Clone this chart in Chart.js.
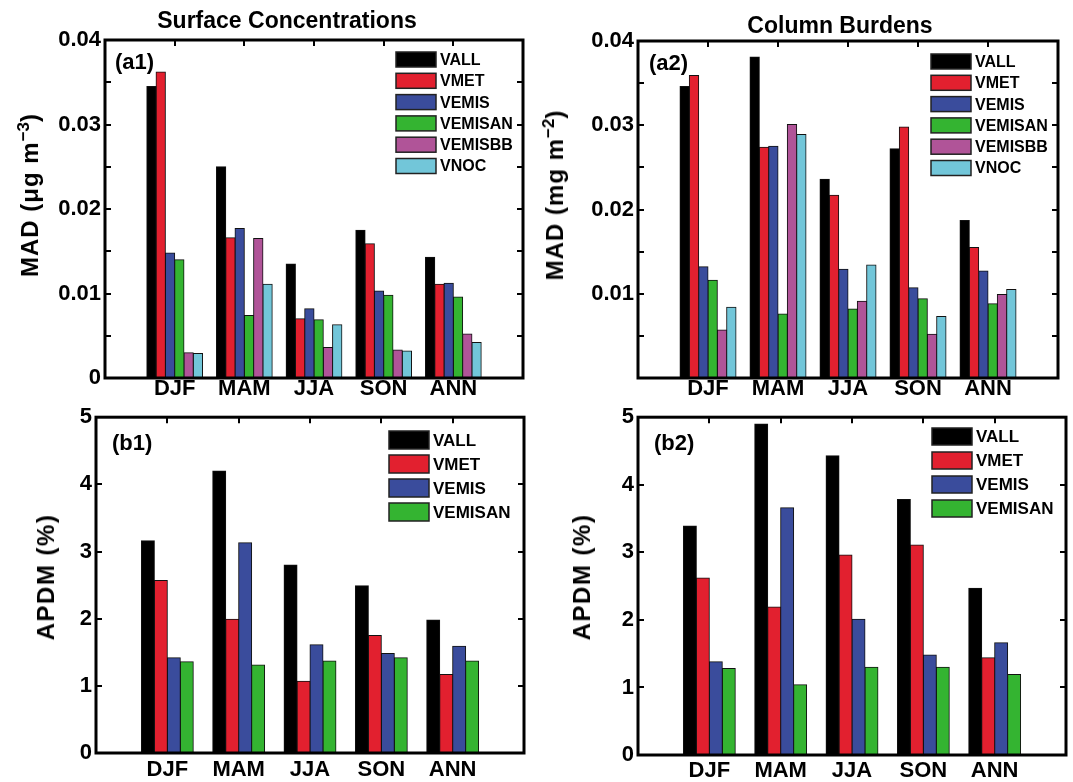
<!DOCTYPE html>
<html>
<head>
<meta charset="utf-8">
<script src="https://cdn.jsdelivr.net/npm/chart.js@4.4.1/dist/chart.umd.min.js"></script>
<style>
  body { margin: 0; background: #fff; width: 1073px; height: 782px; position: relative; overflow: hidden;
         font-family: "Liberation Sans", Arial, Helvetica, sans-serif; }
  canvas { position: absolute; }
  .txt { position: absolute; white-space: nowrap; color: #000; font-weight: bold; transform: translate(-50%, -50%); }
  .ttl { font-size: 23px; }
  .ytl { font-size: 24px; letter-spacing: 1px; transform: translate(-50%, -50%) rotate(-90deg); }
  .ytl.pct { letter-spacing: 1.5px; }
  .ytl sup { font-size: 17px; letter-spacing: 0; }
  .pl { font-size: 22px; transform: translate(0, -50%); }
</style>
</head>
<body>
<canvas id="a1" width="536" height="400" style="left:0;top:0"></canvas>
<canvas id="a2" width="537" height="400" style="left:536px;top:0"></canvas>
<canvas id="b1" width="536" height="382" style="left:0;top:400px"></canvas>
<canvas id="b2" width="537" height="382" style="left:536px;top:400px"></canvas>

<div class="txt ttl" style="left:287px;top:20px">Surface Concentrations</div>
<div class="txt ttl" style="left:840px;top:25px">Column Burdens</div>
<div class="txt ytl" style="left:29px;top:195px">MAD (μg m<sup>−3</sup>)</div>
<div class="txt ytl" style="left:554px;top:195px">MAD (mg m<sup>−2</sup>)</div>
<div class="txt ytl pct" style="left:46px;top:577px">APDM (%)</div>
<div class="txt ytl pct" style="left:582px;top:577px">APDM (%)</div>
<div class="txt pl" style="left:115px;top:62px">(a1)</div>
<div class="txt pl" style="left:649px;top:63px">(a2)</div>
<div class="txt pl" style="left:112px;top:443px">(b1)</div>
<div class="txt pl" style="left:654px;top:443px">(b2)</div>

<script>
const seasons = ['DJF', 'MAM', 'JJA', 'SON', 'ANN'];
const seriesNames = ['VALL', 'VMET', 'VEMIS', 'VEMISAN', 'VEMISBB', 'VNOC'];
const seriesColors = ['#000000', '#e2202f', '#3a4c9c', '#34b431', '#b05498', '#72c6d9'];

// (a1) surface concentrations, MAD
const surfVALL    = [0.0345, 0.0250, 0.0135, 0.0175, 0.0143];
const surfVMET    = [0.0362, 0.0166, 0.0070, 0.0159, 0.0111];
const surfVEMIS   = [0.0148, 0.0177, 0.0082, 0.0103, 0.0112];
const surfVEMISAN = [0.0140, 0.0074, 0.0069, 0.0098, 0.0096];
const surfVEMISBB = [0.0030, 0.0165, 0.0036, 0.0033, 0.0052];
const surfVNOC    = [0.0029, 0.0111, 0.0063, 0.0032, 0.0042];

// (a2) column burdens, MAD
const colVALL    = [0.0346, 0.0381, 0.0236, 0.0272, 0.0187];
const colVMET    = [0.0359, 0.0274, 0.0217, 0.0298, 0.0155];
const colVEMIS   = [0.0132, 0.0275, 0.0129, 0.0107, 0.0127];
const colVEMISAN = [0.0116, 0.0076, 0.0082, 0.0094, 0.0088];
const colVEMISBB = [0.0057, 0.0301, 0.0091, 0.0052, 0.0099];
const colVNOC    = [0.0084, 0.0289, 0.0134, 0.0073, 0.0105];

// (b1) surface APDM (%)
const surfApdmVALL    = [3.16, 4.20, 2.80, 2.49, 1.98];
const surfApdmVMET    = [2.57, 1.99, 1.07, 1.75, 1.17];
const surfApdmVEMIS   = [1.42, 3.13, 1.61, 1.48, 1.59];
const surfApdmVEMISAN = [1.36, 1.31, 1.37, 1.42, 1.37];

// (b2) column APDM (%)
const colApdmVALL    = [3.39, 4.90, 4.43, 3.78, 2.47];
const colApdmVMET    = [2.62, 2.19, 2.96, 3.11, 1.44];
const colApdmVEMIS   = [1.38, 3.66, 2.01, 1.48, 1.66];
const colApdmVEMISAN = [1.28, 1.04, 1.30, 1.30, 1.19];

const FONT = '"Liberation Sans", Arial, Helvetica, sans-serif';

// frame of the axes + inward tick marks (matlab look)
const framePlugin = {
    id: 'frame',
    afterDatasetsDraw(chart, args, o) {
        const { ctx, chartArea: a, scales } = chart;
        ctx.save();
        ctx.strokeStyle = '#000';
        ctx.lineWidth = 2;
        ctx.beginPath();
        for (let v = o.minorStep; v < o.max - 1e-9; v += o.minorStep) {
            const y = Math.round(scales.y.getPixelForValue(v));
            ctx.moveTo(a.left, y); ctx.lineTo(a.left + 6, y);
            ctx.moveTo(a.right - 6, y); ctx.lineTo(a.right, y);
        }
        for (let i = 1; i <= seasons.length; i++) {
            const x = Math.round(scales.x.getPixelForValue(i));
            ctx.moveTo(x, a.top); ctx.lineTo(x, a.top + 6);
        }
        ctx.stroke();
        ctx.lineWidth = 3;
        ctx.strokeRect(a.left, a.top, a.right - a.left, a.bottom - a.top);
        ctx.restore();
    }
};

// legend boxes drawn inside the axes
const boxLegend = {
    id: 'boxLegend',
    afterDraw(chart, args, o) {
        const ctx = chart.ctx;
        ctx.save();
        ctx.font = `bold ${o.fontSize}px ${FONT}`;
        ctx.textBaseline = 'middle';
        chart.data.datasets.forEach((ds, i) => {
            const y = o.y + i * o.spacing;
            ctx.fillStyle = ds.backgroundColor;
            ctx.fillRect(o.x, y, o.boxW, o.boxH);
            ctx.lineWidth = 1.5;
            ctx.strokeStyle = '#222';
            ctx.strokeRect(o.x, y, o.boxW, o.boxH);
            ctx.fillStyle = '#000';
            ctx.fillText(ds.label, o.x + o.boxW + 4, y + o.boxH / 2 + 1);
        });
        ctx.restore();
    }
};

function makePanel(id, series, cfg) {
    const labels = ['', ...seasons, ''];
    const datasets = series.map((vals, i) => ({
        label: seriesNames[i],
        data: [null, ...vals, null],
        backgroundColor: seriesColors[i],
        borderColor: '#111',
        borderWidth: 1,
        borderSkipped: 'bottom',
        inflateAmount: 0.5,
        categoryPercentage: cfg.groupWidth,
        barPercentage: 1.0
    }));

    new Chart(document.getElementById(id), {
        type: 'bar',
        data: { labels: labels, datasets: datasets },
        options: {
            responsive: false,
            animation: false,
            devicePixelRatio: 1,
            layout: { padding: { left: 0, right: cfg.padRight, top: cfg.padTop, bottom: 0 } },
            scales: {
                x: {
                    offset: false,
                    grid: { display: false, drawTicks: false },
                    border: { display: false },
                    ticks: {
                        autoSkip: false, maxRotation: 0, padding: cfg.xPad,
                        color: '#000',
                        font: { family: FONT, size: 22, weight: 'bold', lineHeight: 1.0 }
                    },
                    afterFit: s => { s.height = cfg.xHeight; }
                },
                y: {
                    min: 0,
                    max: cfg.max,
                    grid: { display: false, drawTicks: false },
                    border: { display: false },
                    ticks: {
                        stepSize: cfg.step,
                        padding: 4,
                        color: '#000',
                        font: { family: FONT, size: 22, weight: 'bold' },
                        callback: cfg.tickFmt
                    },
                    afterFit: s => { s.width = cfg.yWidth; }
                }
            },
            plugins: {
                legend: { display: false },
                tooltip: { enabled: false },
                frame: { minorStep: cfg.minorStep, max: cfg.max },
                boxLegend: cfg.legend
            }
        },
        plugins: [framePlugin, boxLegend]
    });
}

const madFmt = hideZero => v => (Math.abs(v) < 1e-9 ? (hideZero ? '' : '0') : v.toFixed(2));
const pctFmt = v => String(Math.round(v));

makePanel('a1', [surfVALL, surfVMET, surfVEMIS, surfVEMISAN, surfVEMISBB, surfVNOC], {
    max: 0.04, step: 0.01, minorStep: 0.005, tickFmt: madFmt(false), groupWidth: 0.8,
    yWidth: 105, padRight: 13, padTop: 40, xHeight: 22, xPad: 0,
    legend: { x: 396, y: 52, spacing: 21.3, boxW: 40, boxH: 15, fontSize: 16 }
});
makePanel('a2', [colVALL, colVMET, colVEMIS, colVEMISAN, colVEMISBB, colVNOC], {
    max: 0.04, step: 0.01, minorStep: 0.005, tickFmt: madFmt(true), groupWidth: 0.8,
    yWidth: 102, padRight: 15, padTop: 41, xHeight: 22, xPad: 0,
    legend: { x: 395, y: 54, spacing: 21.3, boxW: 40, boxH: 15, fontSize: 16 }
});
makePanel('b1', [surfApdmVALL, surfApdmVMET, surfApdmVEMIS, surfApdmVEMISAN], {
    max: 5, step: 1, minorStep: 1, tickFmt: pctFmt, groupWidth: 0.727,
    yWidth: 96, padRight: 12, padTop: 15, xHeight: 29, xPad: 6,
    legend: { x: 389, y: 31, spacing: 24, boxW: 40, boxH: 18, fontSize: 17 }
});
makePanel('b2', [colApdmVALL, colApdmVMET, colApdmVEMIS, colApdmVEMISAN], {
    max: 5, step: 1, minorStep: 1, tickFmt: pctFmt, groupWidth: 0.727,
    yWidth: 102, padRight: 7, padTop: 17, xHeight: 27, xPad: 5,
    legend: { x: 396, y: 28, spacing: 24, boxW: 40, boxH: 17, fontSize: 17 }
});
</script>
</body>
</html>
